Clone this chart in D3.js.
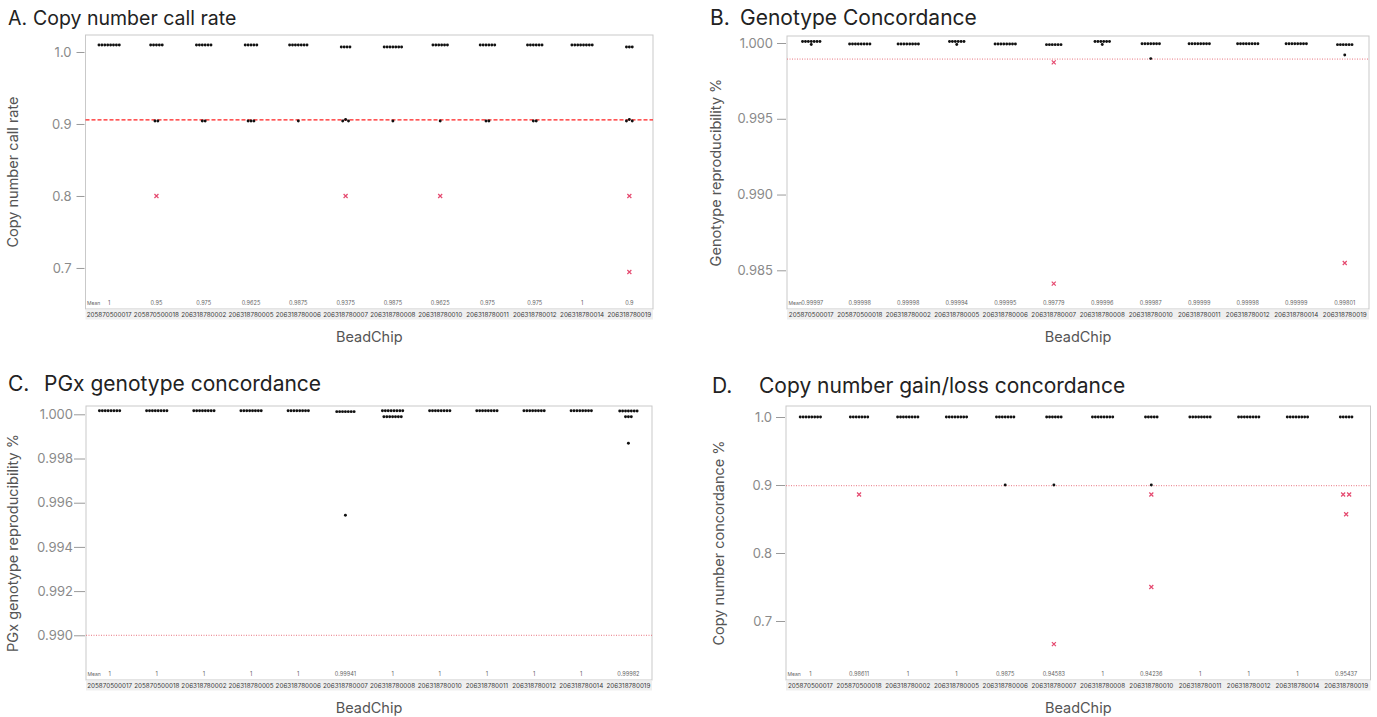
<!DOCTYPE html>
<html>
<head>
<meta charset="utf-8">
<script src="https://cdn.jsdelivr.net/npm/d3@7"></script>
<style>
body { margin: 0; background: #fff; }
svg text { font-family: Inter, "Open Sans", sans-serif; }
</style>
</head>
<body>
<script>
// BeadChip ids shared by all four panels
const chips = ["205870500017", "205870500018", "206318780002", "206318780005",
  "206318780006", "206318780007", "206318780008", "206318780010",
  "206318780011", "206318780012", "206318780014", "206318780019"];

const r = (n, v) => Array(n).fill(v);

// A. copy number call rate
const callRateDots = [
  r(8, 1.0097),
  [...r(5, 1.0097), ...r(2, 0.9042)],
  [...r(6, 1.0097), ...r(2, 0.9042)],
  [...r(5, 1.0097), ...r(3, 0.9042)],
  [...r(7, 1.0097), 0.9042],
  [...r(4, 1.0069), 0.9042, 0.9063, 0.9042],
  [...r(7, 1.0069), 0.9042],
  [...r(6, 1.0097), 0.9042],
  [...r(6, 1.0097), ...r(2, 0.9042)],
  [...r(6, 1.0097), ...r(2, 0.9042)],
  r(8, 1.0097),
  [...r(3, 1.0069), 0.9042, 0.9063, 0.9042]
];
const callRateCross = [[], [0.8], [], [], [], [0.8], [], [0.8], [], [], [], [0.8, 0.6944]];
const callRateMeans = ["1", "0.95", "0.975", "0.9625", "0.9875", "0.9375", "0.9875", "0.9625", "0.975", "0.975", "1", "0.9"];
const callRateTicks = [1.0, 0.9, 0.8, 0.7];
const callRateLimit = 0.9056;

// B. genotype concordance
const genoDots = [
  [1.0001, 1.0001, 1.0001, 0.9999, 1.0001, 1.0001, 1.0001, 1.0001],
  r(8, 0.99993),
  r(8, 0.99993),
  [1.0001, 1.0001, 1.0001, 0.9999, 1.0001, 1.0001, 1.0001],
  r(8, 0.99993),
  r(6, 0.99989),
  [1.0001, 1.0001, 1.0001, 0.9999, 1.0001, 1.0001, 1.0001],
  [...r(7, 0.99995), 0.99897],
  r(8, 0.99995),
  r(8, 0.99995),
  r(8, 0.99995),
  [...r(6, 0.99989), 0.99921]
];
const genoCross = [[], [], [], [], [], [0.99872, 0.98412], [], [], [], [], [], [0.98548]];
const genoMeans = ["0.99997", "0.99998", "0.99998", "0.99994", "0.99995", "0.99779", "0.99996", "0.99987", "0.99999", "0.99998", "0.99999", "0.99801"];
const genoTicks = [1.000, 0.995, 0.990, 0.985];
const genoLimit = 0.99894;

// C. PGx genotype concordance
const pgxDots = [
  r(8, 1.00016), r(8, 1.00016), r(8, 1.00016), r(8, 1.00016), r(8, 1.00016),
  [...r(7, 1.00012), 0.99543],
  [...r(8, 1.00016), ...r(7, 0.99989)],
  r(8, 1.00016), r(8, 1.00016), r(8, 1.00016), r(8, 1.00016),
  [...r(7, 1.00015), ...r(3, 0.99989), 0.99869]
];
const pgxCross = r(12, []);
const pgxMeans = ["1", "1", "1", "1", "1", "0.99941", "1", "1", "1", "1", "1", "0.99982"];
const pgxTicks = [1.000, 0.998, 0.996, 0.994, 0.992, 0.990];
const pgxLimit = 0.990;

// D. copy number gain/loss concordance
const gainLossDots = [
  r(8, 1), r(7, 1), r(8, 1), r(8, 1),
  [...r(7, 1), 0.9],
  [...r(6, 1), 0.9],
  r(8, 1),
  [...r(5, 1), 0.9],
  r(8, 1), r(8, 1), r(8, 1),
  r(5, 1)
];
const gainLossCross = [[], [0.886], [], [], [], [0.666], [], [0.886, 0.75], [], [], [], [0.886, 0.886, 0.857]];
const gainLossMeans = ["1", "0.98611", "1", "1", "0.9875", "0.94583", "1", "0.94236", "1", "1", "1", "0.95437"];
const gainLossTicks = [1.0, 0.9, 0.8, 0.7];
const gainLossLimit = 0.899;

const svg = d3.select("body").append("svg")
  .attr("width", 1377)
  .attr("height", 717);

function drawPanel(p) {
  const g = svg.append("g");
  const x = d3.scaleBand().domain(chips).range([p.left, p.right]);
  const y = d3.scaleLinear().domain(p.domain).range([p.bottom, p.top]);

  // title
  const t = g.append("text").attr("y", p.titleY).attr("font-size", p.titleSize).attr("fill", "#222");
  t.append("tspan").attr("x", p.titleX[0]).text(p.title[0]);
  t.append("tspan").attr("x", p.titleX[1]).text(p.title[1]);

  // plot frame and label strip
  g.append("rect")
    .attr("x", p.left).attr("y", p.top)
    .attr("width", p.right - p.left).attr("height", p.bottom - p.top)
    .attr("fill", "none").attr("stroke", "#c9c9c9");
  g.append("rect")
    .attr("x", p.left).attr("y", p.bottom + 0.5)
    .attr("width", p.right - p.left).attr("height", 10)
    .attr("fill", "#efefef");

  g.selectAll(".chip").data(chips).enter().append("text")
    .attr("x", d => x(d) + x.bandwidth() / 2)
    .attr("y", p.bottom + 8)
    .attr("text-anchor", "middle")
    .attr("font-size", 6.3)
    .attr("font-family", "Liberation Sans, Arial, sans-serif")
    .attr("fill", "#3a3a3a")
    .text(d => d);

  // mean row
  g.append("text")
    .attr("x", p.left + 1.5).attr("y", p.bottom - 4)
    .attr("font-size", 5)
    .attr("font-family", "Liberation Sans, Arial, sans-serif")
    .attr("fill", "#666").text("Mean");
  g.selectAll(".mean").data(p.means).enter().append("text")
    .attr("x", (d, i) => x(chips[i]) + x.bandwidth() / 2 + (i === 0 && d.length > 3 ? 1 : 0))
    .attr("y", p.bottom - 4)
    .attr("text-anchor", "middle")
    .attr("font-size", 5.6)
    .attr("font-family", "Liberation Sans, Arial, sans-serif")
    .attr("fill", "#666")
    .text(d => d);

  // y axis
  const ax = g.append("g")
    .attr("transform", `translate(${p.left - 1},0)`)
    .call(d3.axisLeft(y).tickValues(p.ticks).tickFormat(d3.format(p.fmt))
      .tickSize(p.tickLen).tickPadding(p.pad));
  ax.select(".domain").remove();
  ax.selectAll(".tick line").attr("stroke", "#9a9a9a");
  ax.selectAll(".tick text").attr("fill", "#8a8a8a").attr("font-size", 13)
    .attr("font-family", "Inter, sans-serif");

  // axis titles
  g.append("text")
    .attr("transform", `translate(${p.yTitleX},${(p.top + p.bottom) / 2}) rotate(-90)`)
    .attr("text-anchor", "middle").attr("dominant-baseline", "middle")
    .attr("font-size", 14.5).attr("fill", "#555")
    .text(p.yTitle);
  g.append("text")
    .attr("x", (p.left + p.right) / 2).attr("y", p.bottom + 33)
    .attr("text-anchor", "middle")
    .attr("font-size", 14.5).attr("fill", "#555")
    .text("BeadChip");

  // limit line
  g.append("line")
    .attr("x1", p.left).attr("x2", p.right)
    .attr("y1", y(p.limit)).attr("y2", y(p.limit))
    .attr("stroke", p.dashed ? "#ff1f1f" : "#e9737f")
    .attr("stroke-width", p.dashed ? 1.3 : 1)
    .attr("stroke-dasharray", p.dashed ? "4,2" : "1,1.5");

  // points: values in the same row sit side by side
  const pts = [];
  chips.forEach((c, i) => {
    const items = p.dots[i].map(v => ({ v, t: "o" }))
      .concat(p.cross[i].map(v => ({ v, t: "x" })));
    const rows = [];
    items.forEach(it => {
      const py = y(it.v);
      let row = rows.find(rw => rw.t === it.t && Math.abs(rw.py - py) < 3);
      if (!row) { row = { t: it.t, py, items: [] }; rows.push(row); }
      row.items.push(it);
    });
    const cx = x(c) + x.bandwidth() / 2;
    rows.forEach(rw => {
      const step = rw.t === "o" ? 2.9 : 6;
      rw.items.forEach((it, k) => {
        pts.push({ t: it.t, px: cx + (k - (rw.items.length - 1) / 2) * step, py: y(it.v) });
      });
    });
  });

  g.selectAll(".dot").data(pts.filter(d => d.t === "o")).enter().append("circle")
    .attr("cx", d => d.px).attr("cy", d => d.py)
    .attr("r", 1.45).attr("fill", "#111");

  g.selectAll(".cross").data(pts.filter(d => d.t === "x")).enter().append("path")
    .attr("transform", d => `translate(${d.px},${d.py})`)
    .attr("d", "M-2,-2L2,2M-2,2L2,-2")
    .attr("stroke", "#e5496f").attr("stroke-width", 1.2);
}

drawPanel({
  left: 85.5, right: 653, top: 35, bottom: 309, domain: [0.643, 1.0236],
  ticks: callRateTicks, fmt: ".1f", tickLen: 8, pad: 5,
  title: ["A.", "Copy number call rate"], titleX: [8, 33], titleY: 25, titleSize: 19.5,
  yTitle: "Copy number call rate", yTitleX: 14,
  dots: callRateDots, cross: callRateCross, means: callRateMeans,
  limit: callRateLimit, dashed: true
});

drawPanel({
  left: 787, right: 1369, top: 36, bottom: 309, domain: [0.982446, 1.000462],
  ticks: genoTicks, fmt: ".3f", tickLen: 9, pad: 4,
  title: ["B.", "Genotype Concordance"], titleX: [710, 740], titleY: 25, titleSize: 21,
  yTitle: "Genotype reproducibility %", yTitleX: 717,
  dots: genoDots, cross: genoCross, means: genoMeans,
  limit: genoLimit, dashed: false
});

drawPanel({
  left: 86, right: 652, top: 406, bottom: 680, domain: [0.987977, 1.000376],
  ticks: pgxTicks, fmt: ".3f", tickLen: 11, pad: 1,
  title: ["C.", "PGx genotype concordance"], titleX: [8, 44], titleY: 391, titleSize: 21,
  yTitle: "PGx genotype reproducibility %", yTitleX: 14,
  dots: pgxDots, cross: pgxCross, means: pgxMeans,
  limit: pgxLimit, dashed: false
});

drawPanel({
  left: 786, right: 1370.5, top: 406, bottom: 680, domain: [0.61324, 1.0162],
  ticks: gainLossTicks, fmt: ".1f", tickLen: 9, pad: 4,
  title: ["D.", "Copy number gain/loss concordance"], titleX: [712, 759], titleY: 393, titleSize: 21,
  yTitle: "Copy number concordance %", yTitleX: 720,
  dots: gainLossDots, cross: gainLossCross, means: gainLossMeans,
  limit: gainLossLimit, dashed: false
});
</script>
</body>
</html>
